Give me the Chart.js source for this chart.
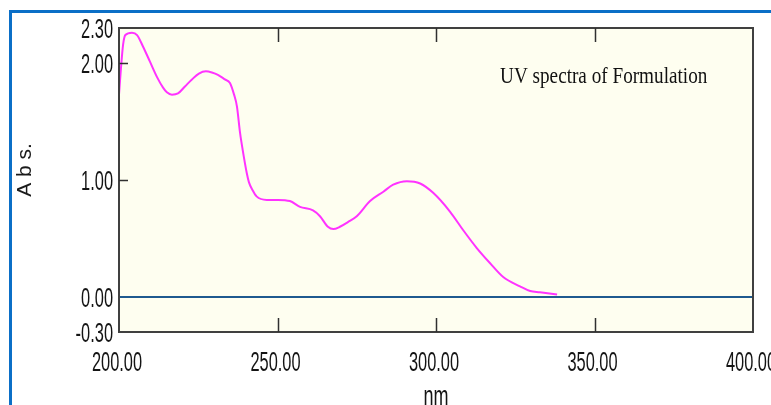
<!DOCTYPE html>
<html>
<head>
<meta charset="utf-8">
<script src="https://cdn.jsdelivr.net/npm/chart.js@4/dist/chart.umd.min.js"></script>
<style>
  html, body { margin: 0; padding: 0; background: #ffffff; }
  #wrap { position: relative; width: 771px; height: 405px; }
</style>
</head>
<body>
<div id="wrap"><canvas id="c" width="771" height="405"></canvas></div>
<script>
// ---- data ----
const wavelengths = [200.0, 200.6, 201.3, 202.0, 204.1, 205.7, 207.6, 209.8, 212.0, 213.9, 215.1, 216.7, 218.6, 220.8, 223.0, 225.2, 227.4, 229.3, 231.2, 233.4, 235.0, 236.3, 237.2, 238.2, 239.0, 240.3, 241.0, 242.2, 243.4, 246.6, 250.2, 253.9, 257.1, 261.2, 263.4, 265.9, 267.6, 269.7, 272.2, 275.0, 279.2, 283.4, 286.5, 290.8, 295.0, 299.1, 304.4, 308.6, 312.8, 317.0, 321.2, 326.5, 329.7, 332.8, 338.2];
const absorbance = [1.73, 1.95, 2.16, 2.24, 2.26, 2.24, 2.14, 2.01, 1.88, 1.79, 1.75, 1.73, 1.74, 1.80, 1.86, 1.91, 1.93, 1.92, 1.90, 1.86, 1.83, 1.73, 1.63, 1.40, 1.26, 1.06, 0.98, 0.91, 0.86, 0.83, 0.83, 0.82, 0.77, 0.74, 0.69, 0.60, 0.58, 0.60, 0.64, 0.69, 0.82, 0.90, 0.96, 0.99, 0.97, 0.89, 0.73, 0.57, 0.42, 0.29, 0.17, 0.09, 0.05, 0.04, 0.02];
const baselineX = [200, 400];
const baselineY = [0, 0];
const xTicks = [200, 250, 300, 350, 400];
const yTicks = [-0.30, 0.00, 1.00, 2.00, 2.30];
const xTickLabels = ['200.00', '250.00', '300.00', '350.00', '400.00'];
const yTickLabels = ['-0.30', '0.00', '1.00', '2.00', '2.30'];
const xInnerTicks = [250, 300, 350];
const yInnerTicks = [1.00, 2.00];
const chartLabel = 'UV spectra of Formulation';
const xTitle = 'nm';
const yTitle = 'A b s.';

const narrowFont = "20px 'Liberation Sans', Arial, sans-serif";

function stretchedText(ctx, text, x, y, align, sx, sy) {
  ctx.save();
  ctx.translate(x, y);
  ctx.scale(sx, sy);
  ctx.textAlign = align;
  ctx.textBaseline = 'alphabetic';
  ctx.fillText(text, 0, 0);
  ctx.restore();
}

const framePlugin = {
  id: 'framePlugin',
  beforeDraw(chart) {
    const { ctx, chartArea: a } = chart;
    ctx.save();
    ctx.fillStyle = '#fefef0';
    ctx.fillRect(a.left, a.top, a.right - a.left, a.bottom - a.top);
    ctx.fillStyle = '#0b6fc7';
    ctx.fillRect(9, 10, 3, chart.height - 10);
    ctx.fillRect(9, 10, chart.width - 9, 3);
    ctx.restore();
  },
  afterDraw(chart) {
    const { ctx, chartArea: a, scales } = chart;
    const xs = scales.x, ys = scales.y;
    ctx.save();
    // plot frame
    ctx.strokeStyle = '#404040';
    ctx.lineWidth = 2;
    ctx.strokeRect(a.left, a.top, a.right - a.left, a.bottom - a.top);
    // inward tick marks
    ctx.lineWidth = 1.5;
    ctx.strokeStyle = '#303030';
    ctx.beginPath();
    xInnerTicks.forEach(v => {
      const px = Math.round(xs.getPixelForValue(v)) + 0.5;
      ctx.moveTo(px, a.bottom); ctx.lineTo(px, a.bottom - 14);
      ctx.moveTo(px, a.top); ctx.lineTo(px, a.top + 14);
    });
    yInnerTicks.forEach(v => {
      const py = Math.round(ys.getPixelForValue(v)) + 0.5;
      ctx.moveTo(a.left, py); ctx.lineTo(a.left + 9, py);
    });
    ctx.stroke();

    // tick labels (narrow, tall face like the reference)
    ctx.fillStyle = '#141414';
    ctx.font = narrowFont;
    const sx = 0.82, sy = 1.36;
    const half = 0.358 * 20 * sy;
    yTicks.forEach((v, i) => {
      stretchedText(ctx, yTickLabels[i], a.left - 6, ys.getPixelForValue(v) + half, 'right', sx, sy);
    });
    xTicks.forEach((v, i) => {
      stretchedText(ctx, xTickLabels[i], xs.getPixelForValue(v) - 2, a.bottom + 29 + half, 'center', sx, sy);
    });
    // x title
    stretchedText(ctx, xTitle, (a.left + a.right) / 2, 405, 'center', 0.9, 1.36);

    // annotation text
    ctx.fillStyle = '#111111';
    ctx.font = "19px 'Liberation Serif', 'Times New Roman', serif";
    stretchedText(ctx, chartLabel, xs.getPixelForValue(320.2), ys.getPixelForValue(1.83), 'left', 1.01, 1.18);

    // y title
    ctx.translate(25, 170);
    ctx.rotate(-Math.PI / 2);
    ctx.textAlign = 'center';
    ctx.textBaseline = 'middle';
    ctx.font = "21px 'Liberation Sans', Arial, sans-serif";
    ctx.fillStyle = '#1a1a1a';
    ctx.fillText(yTitle, 0, 0);
    ctx.restore();
  }
};

new Chart(document.getElementById('c'), {
  type: 'line',
  data: {
    datasets: [
      {
        label: 'Formulation',
        data: wavelengths.map((x, i) => ({ x, y: absorbance[i] })),
        borderColor: '#ff33ff',
        borderWidth: 2,
        pointRadius: 0,
        cubicInterpolationMode: 'monotone',
        fill: false,
        order: 1
      },
      {
        label: 'Baseline',
        data: baselineX.map((x, i) => ({ x, y: baselineY[i] })),
        borderColor: '#1f5a8f',
        borderWidth: 2,
        pointRadius: 0,
        fill: false,
        order: 2
      }
    ]
  },
  options: {
    responsive: false,
    animation: false,
    devicePixelRatio: 1,
    layout: { autoPadding: false, padding: { left: 0, right: 18, top: 28, bottom: 0 } },
    plugins: { legend: { display: false }, tooltip: { enabled: false } },
    scales: {
      x: {
        type: 'linear',
        min: 200, max: 400,
        afterBuildTicks: s => { s.ticks = xTicks.map(v => ({ value: v })); },
        afterFit: s => { s.height = 73; s.paddingLeft = 0; s.paddingRight = 0; },
        grid: { display: false, drawTicks: false },
        border: { display: false },
        ticks: { display: false },
        title: { display: false }
      },
      y: {
        type: 'linear',
        min: -0.30, max: 2.30,
        afterBuildTicks: s => { s.ticks = yTicks.map(v => ({ value: v })); },
        afterFit: s => { s.width = 119; s.paddingTop = 0; s.paddingBottom = 0; },
        grid: { display: false, drawTicks: false },
        border: { display: false },
        ticks: { display: false }
      }
    }
  },
  plugins: [framePlugin]
});
</script>
</body>
</html>
